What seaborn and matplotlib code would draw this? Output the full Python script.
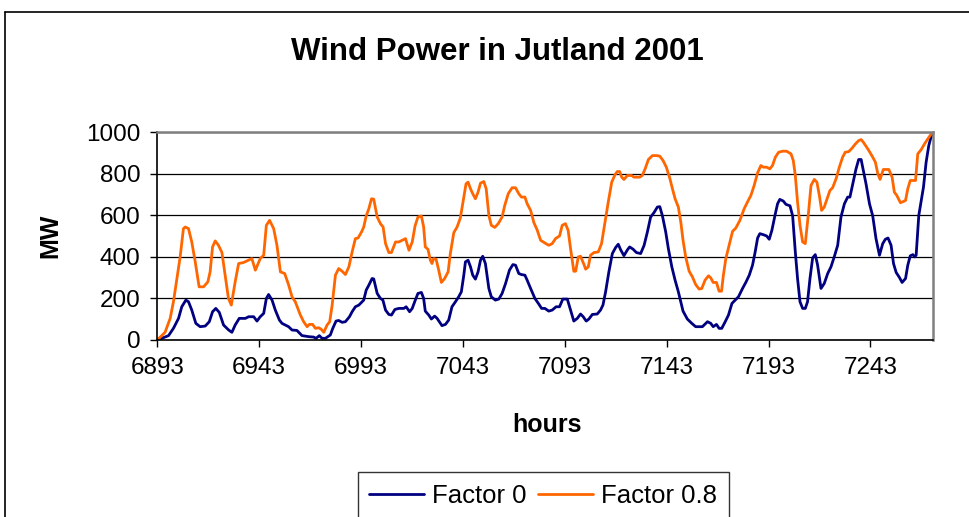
import pandas as pd
import matplotlib
matplotlib.use("Agg")
import matplotlib.pyplot as plt
import seaborn as sns
from matplotlib.lines import Line2D

# Hours and MW
hours_f0 = [6893, 6895.2, 6898.5, 6900.9, 6903.4, 6905.0, 6907.0, 6908.3, 6909.9, 6911.9, 6914.0, 6916.5,
            6918.5, 6920.1, 6921.7, 6923.4, 6925.5, 6928.0, 6929.6, 6931.2, 6933.2, 6936.2, 6937.8, 6940.3,
            6941.9, 6943.5, 6945.2, 6946.5, 6947.6, 6949.3, 6950.9, 6952.9, 6954.2,
            6957.4, 6959.1, 6961.5, 6964.0, 6967.3, 6969.7, 6970.9, 6972.5, 6973.8, 6975.5, 6977.9, 6979.1,
            6980.7, 6982.0, 6983.7, 6985.3, 6987.3, 6988.6, 6990.2, 6991.9, 6994.3, 6995.5, 6996.8, 6998.4,
            6999.2, 7000.9, 7002.5, 7003.7, 7005.0, 7006.6, 7007.9, 7009.6, 7011.5, 7014.0, 7015.1, 7016.8,
            7018.1,
            7019.6, 7020.9, 7022.6, 7023.7, 7024.5, 7026.2, 7027.5, 7029.1, 7030.3, 7031.4, 7032.7, 7034.4,
            7036.0, 7037.6, 7039.3, 7040.9, 7042.2, 7043.4, 7044.2, 7045.5, 7046.7, 7047.8, 7049.1, 7050.4,
            7051.6, 7052.7, 7054.0, 7055.7, 7056.9, 7058.9, 7060.6, 7062.2, 7063.9, 7065.8, 7067.5, 7068.8,
            7070.4, 7071.7, 7073.4, 7074.5, 7076.2, 7078.3, 7080.0, 7081.6, 7083.2,
            7085.1, 7086.8, 7088.7, 7090.4, 7092.0, 7094.2, 7095.8, 7097.4, 7099.1, 7100.7, 7102.0, 7103.5,
            7104.8, 7106.5, 7108.9, 7110.5, 7111.7, 7113.0, 7114.6, 7116.3, 7117.9, 7119.2, 7120.4, 7122.0,
            7123.7, 7124.8, 7126.5, 7128.1, 7130.2, 7131.9, 7133.5, 7135.1, 7136.8, 7138.4, 7139.6, 7140.9,
            7142.5, 7143.8, 7145.5, 7147.1,
            7148.7, 7149.9, 7151.0, 7153.1, 7155.3, 7157.2, 7160.5, 7163.0, 7164.6, 7165.8, 7167.4, 7168.7,
            7170.0, 7171.7, 7173.3, 7175.0, 7176.6, 7178.2, 7180.2, 7181.8, 7183.5, 7185.1, 7186.4, 7187.6,
            7188.7, 7190.4, 7192.0, 7193.3, 7194.6, 7196.3, 7197.4, 7198.5, 7200.2, 7201.5, 7203.5, 7204.8,
            7206.1, 7207.2, 7208.4, 7209.7, 7211.0,
            7212.1, 7213.3, 7214.6, 7215.9, 7217.0, 7218.7, 7220.3, 7222.0, 7223.6, 7225.2, 7226.9, 7228.5,
            7230.2, 7231.8, 7232.9, 7234.3, 7235.9, 7237.2, 7238.4, 7239.5, 7240.8, 7242.5, 7244.1, 7245.7,
            7247.4, 7249.0, 7250.3, 7251.6, 7253.1, 7254.3, 7255.6, 7257.2, 7258.5, 7260.2, 7261.3, 7262.5,
            7263.8, 7264.7, 7265.4, 7266.7, 7267.9, 7269.0, 7270.3, 7271.6, 7272.8, 7273.6]
mw_f0 = [0, 8, 21, 56, 104, 160, 192, 184, 144, 80, 64, 67,
         88, 136, 152, 133, 72, 48, 37, 72, 104, 104, 112, 112,
         91, 112, 128, 200, 219, 192, 144, 96, 80,
         64, 48, 46, 21, 16, 14, 8, 21, 8, 8, 24, 56,
         91, 94, 85, 88, 112, 136, 160, 168, 192, 240, 264, 296,
         294, 224, 200, 192, 144, 123, 120, 147, 152, 152, 160, 136,
         152,
         192, 224, 229, 200, 139, 120, 101, 115, 104, 88, 69, 75,
         96, 160, 184, 208, 232, 312, 376, 384, 352, 312, 293, 328,
         384, 403, 368, 248, 208, 192, 197, 224, 272, 336, 363, 360,
         320, 315, 312, 288, 248, 200, 176, 152, 152,
         139, 144, 160, 160, 197, 197, 144, 91, 104, 125, 112, 91,
         101, 123, 125, 144, 168, 232, 328, 416, 445, 461, 434, 406,
         434, 448, 437, 421, 416, 456, 520, 592, 614, 640, 642, 597,
         520, 440, 352, 288,
         232, 184, 139, 101, 80, 64, 64, 88, 80, 64, 75, 56,
         56, 88, 120, 176, 192, 208, 248, 277, 312, 360, 424, 491,
         512, 507, 501, 485, 528, 608, 656, 677, 669, 653, 646, 597,
         424, 296, 184, 152, 152,
         184, 296, 395, 411, 363, 248, 272, 320, 352, 400, 456, 592,
         656, 688, 688, 752, 824, 869, 869, 816, 752, 656, 597, 488,
         408, 464, 485, 491, 456, 368, 325, 301, 277, 296, 360, 405,
         411, 400, 408, 600, 672, 736, 856, 936, 981, 1000]

hours_f08 = [6893, 6896.8, 6899.3, 6900.9, 6902.6, 6904.2, 6905.8, 6906.7, 6908.3, 6909.9, 6911.6, 6913.5,
             6915.7, 6917.8, 6918.9, 6920.1, 6921.4, 6923.0, 6924.7, 6926.3, 6927.9, 6929.3, 6931.2, 6932.9,
             6935.3, 6937.0, 6939.4, 6941.1, 6943.5, 6945.2, 6946.5, 6948.1, 6950.1, 6951.7, 6953.4, 6955.5,
             6957.4, 6959.1, 6960.7, 6963.2, 6964.8, 6966.5, 6967.6, 6969.2, 6970.6, 6972.2, 6973.5, 6974.7,
             6976.3, 6977.6, 6978.8, 6980.4, 6982.0, 6983.7, 6985.3, 6987.0, 6988.6, 6990.2, 6991.5, 6993.2,
             6994.3, 6995.5, 6996.8, 6998.1, 6999.2, 7000.9, 7002.5, 7003.8, 7005.0, 7006.6, 7007.9, 7009.9,
             7011.5, 7013.2, 7014.8, 7016.5, 7018.1,
             7019.5, 7020.9, 7022.6, 7023.7, 7024.5, 7025.8, 7027.0, 7027.8, 7028.6, 7029.8, 7031.1, 7032.4,
             7034.0, 7035.7, 7036.8, 7038.5, 7040.1, 7041.7, 7043.4, 7044.5, 7045.5, 7046.7, 7047.8, 7049.1,
             7050.4, 7051.6, 7053.2, 7054.4, 7055.7, 7056.9, 7058.6, 7060.3, 7062.2, 7063.5, 7065.2, 7067.1,
             7068.8, 7070.4, 7071.7, 7073.4, 7074.5, 7076.2, 7077.8, 7079.4, 7081.1, 7083.2,
             7085.1, 7086.8, 7088.4, 7090.4, 7091.7, 7093.3, 7094.6, 7095.8, 7097.4, 7098.3, 7099.6, 7100.7,
             7102.4, 7103.2, 7104.5, 7105.6, 7107.3, 7109.4, 7111.0, 7112.7, 7114.3, 7116.0, 7117.6, 7118.7,
             7119.9, 7120.9, 7122.0, 7123.7, 7125.8, 7126.9, 7129.7, 7131.0, 7132.4, 7134.0, 7136.0, 7137.9,
             7139.6, 7141.2, 7142.8, 7144.5, 7145.8, 7147.1,
             7148.7, 7149.9, 7151.0, 7152.3, 7154.0, 7155.6, 7157.2, 7158.9, 7160.2, 7161.8, 7163.5, 7164.6,
             7165.8, 7167.4, 7168.7, 7169.9, 7170.8, 7172.0, 7173.6, 7175.3, 7176.9, 7178.9, 7181.0, 7182.6,
             7184.3, 7185.9, 7187.6, 7189.2, 7190.4, 7192.0, 7193.6, 7194.9, 7196.3, 7197.9, 7199.9, 7201.8,
             7204.0, 7205.1, 7206.1, 7207.2, 7208.4, 7209.7, 7211.0,
             7212.6, 7213.8, 7215.4, 7216.7, 7217.9, 7219.0, 7220.3, 7222.0, 7223.1, 7224.4, 7226.1, 7227.7,
             7229.3, 7230.6, 7232.3, 7233.9, 7235.6, 7237.2, 7238.4, 7239.5, 7240.8, 7242.5, 7244.1, 7245.4,
             7246.6, 7247.7, 7249.3, 7252.0, 7253.6, 7254.7, 7255.9, 7257.7, 7259.2, 7260.2, 7261.3, 7262.5,
             7265.1, 7266.2, 7267.9, 7269.5, 7271.1, 7272.8, 7273.6]
mw_f08 = [0, 37, 104, 184, 296, 400, 536, 544, 536, 472, 376, 256,
          256, 280, 328, 448, 477, 456, 421, 312, 200, 168, 280, 368,
          373, 381, 392, 336, 392, 408, 552, 576, 536, 456, 328, 320,
          266, 208, 184, 120, 88, 64, 75, 75, 56, 59, 51, 37,
          72, 88, 168, 312, 344, 331, 315, 352, 424, 488, 491, 520,
          544, 597, 632, 680, 678, 592, 560, 544, 464, 421, 421, 472,
          472, 480, 488, 432, 472,
          550, 592, 597, 544, 448, 437, 384, 368, 392, 389, 336, 277,
          296, 328, 416, 517, 544, 587, 688, 752, 760, 728, 704, 680,
          712, 755, 763, 728, 600, 552, 542, 560, 592, 648, 704, 733,
          733, 704, 688, 688, 656, 624, 565, 530, 480, 467,
          456, 464, 488, 501, 552, 560, 528, 440, 331, 331, 400, 403,
          363, 341, 352, 408, 421, 424, 464, 568, 664, 760, 795, 811,
          811, 784, 773, 792, 792, 784, 784, 792, 824, 869, 888, 888,
          885, 864, 832, 779, 728, 680,
          640, 568, 480, 400, 331, 304, 267, 245, 248, 288, 309, 299,
          277, 277, 235, 235, 312, 392, 456, 523, 539, 576, 632, 664,
          696, 744, 805, 840, 832, 832, 824, 840, 880, 904, 909, 909,
          896, 864, 792, 664, 552, 472, 464,
          616, 744, 773, 760, 696, 624, 640, 688, 720, 733, 776, 832,
          880, 904, 907, 923, 944, 960, 965, 952, 933, 907, 880, 856,
          800, 773, 821, 821, 784, 712, 696, 661, 667, 672, 728, 768,
          768, 896, 917, 944, 968, 992, 1000]

series_names = ["Factor 0", "Factor 0.8"]
series_colors = ["#000080", "#FF6600"]
x_ticks = list(range(6893, 7273, 50))
y_ticks = [0, 200, 400, 600, 800, 1000]

df = pd.concat([
    pd.DataFrame({"hours": hours_f0, "MW": mw_f0, "series": series_names[0]}),
    pd.DataFrame({"hours": hours_f08, "MW": mw_f08, "series": series_names[1]}),
])

sns.set_style("white")
plt.rcParams['font.family'] = ['Liberation Sans', 'DejaVu Sans']
plt.rcParams['text.color'] = 'black'
plt.rcParams['axes.labelcolor'] = 'black'
plt.rcParams['xtick.color'] = 'black'
plt.rcParams['ytick.color'] = 'black'

fig = plt.figure(figsize=(9.7, 5.17), dpi=100)
ax = fig.add_axes([0.1622, 0.3424, 0.7995, 0.4017])

sns.lineplot(data=df, x="hours", y="MW", hue="series", estimator=None,
             palette=dict(zip(series_names, series_colors)), linewidth=2, ax=ax, legend=False)

ax.set_xlim(6893, 7273.6)
ax.set_ylim(0, 1000)
ax.set_xticks(x_ticks)
ax.set_yticks(y_ticks)
ax.yaxis.grid(True, color="black", linewidth=0.9)
ax.set_axisbelow(True)
ax.tick_params(bottom=True, left=True, direction="out", length=5, width=1,
               color="black", labelsize=17.5, labelcolor="black", pad=7)

for side in ["left", "bottom"]:
    ax.spines[side].set_color("black")
    ax.spines[side].set_linewidth(1.2)
for side in ["top", "right"]:
    ax.spines[side].set_color("#808080")
    ax.spines[side].set_linewidth(1.8)

ax.set_xlabel("hours", fontsize=18, fontweight="bold", color="black")
ax.set_ylabel("MW", fontsize=18, fontweight="bold", color="black")
ax.xaxis.set_label_coords(0.503, -0.35)
ax.yaxis.set_label_coords(-0.123, 0.5)

fig.text(0.513, 0.899, "Wind Power in Jutland 2001", fontsize=22.5, fontweight="bold",
         ha="center", va="center", color="black")

leg = fig.legend(handles=ax.lines[:2], labels=series_names, loc="upper center",
                 bbox_to_anchor=(0.560, 0.087), ncol=2, fontsize=18.5, frameon=True,
                 fancybox=False, edgecolor="black", handlelength=2.15, handletextpad=0.3,
                 columnspacing=0.45, borderpad=0.45, borderaxespad=0)
leg.get_frame().set_linewidth(1)
for txt in leg.get_texts():
    txt.set_color("black")

# outer chart border (cut off at right and bottom in the original)
fig.add_artist(Line2D([5 / 970, 5 / 970], [0, 1 - 12 / 517], transform=fig.transFigure,
                      color="black", linewidth=1.2))
fig.add_artist(Line2D([5 / 970, 1], [1 - 12 / 517, 1 - 12 / 517], transform=fig.transFigure,
                      color="black", linewidth=1.2))

plt.savefig("out.png", dpi=100)
